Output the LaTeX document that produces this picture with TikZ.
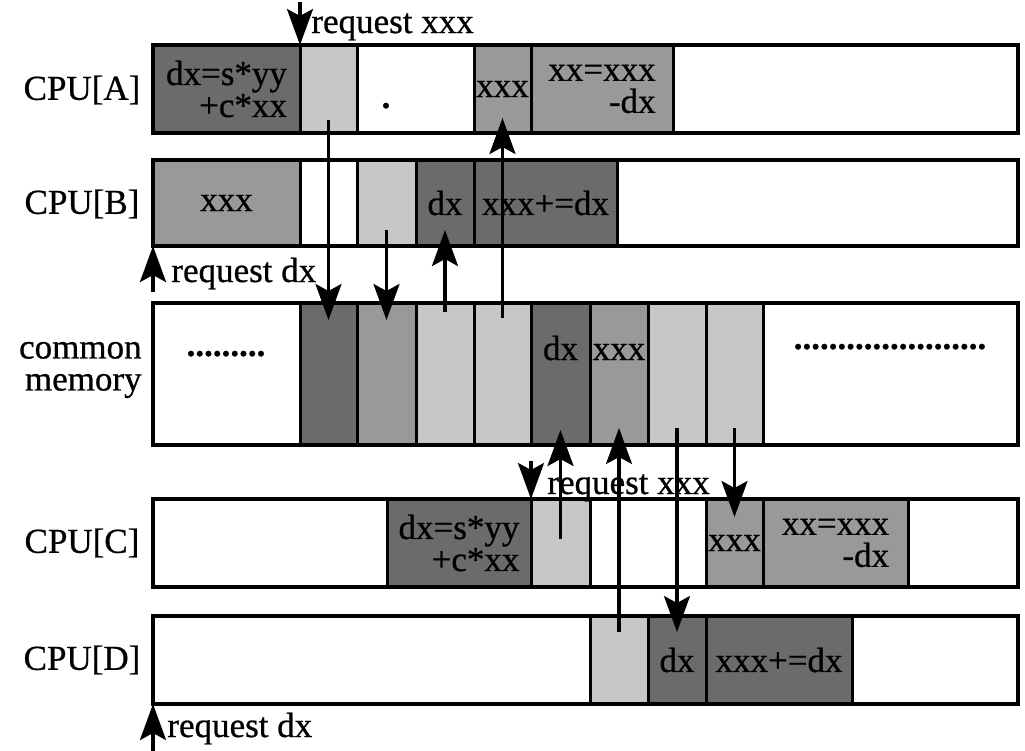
\documentclass[tikz,border=0pt]{standalone}
\usepackage{fontspec}
\setmainfont{Liberation Serif}[FakeBold=0.7]
\usetikzlibrary{arrows.meta}
\newcommand\cel[7]{%
  \node[cellbox,#6,minimum width={(#3-#2)*0.5pt},minimum height={(#5-#4)*0.5pt}] (#1) at ({(#2+#3)/2},{(#4+#5)/2}) {#7};}
\tikzset{
  cellbox/.style={draw,line width=1.5pt,inner sep=0pt,outer sep=0pt,align=right,
    font=\fontsize{17.5}{16}\selectfont},
  wh/.style={fill=white},
  dk/.style={fill=black!58},
  md/.style={fill=black!40},
  lt/.style={fill=black!22},
  frame/.style={draw,line width=2.3pt,fill=none},
  lbl/.style={font=\fontsize{17.5}{16}\selectfont,inner sep=0pt},
  arr/.style={line width=1.6pt,-{Stealth[length=18pt,width=13pt,inset=3.5pt]}},
}
\begin{document}
\begin{tikzpicture}[x=0.5pt,y=-0.5pt]
\useasboundingbox (0,0) rectangle (1025,751);
% CPU[A]
\cel{A1}{153}{300}{45}{133}{dk}{dx=s*yy\\+c*xx}
\cel{A2}{300}{357}{45}{133}{lt}{}
\cel{A3}{357}{474}{45}{133}{wh}{}
\cel{A4}{474}{531}{45}{133}{md}{xxx}
\cel{A5}{531}{673}{45}{133}{md}{xx=xxx\\-dx}
\cel{A6}{673}{1018}{45}{133}{wh}{}
\cel{Aframe}{153}{1018}{45}{133}{frame}{}
\node[lbl,anchor=base] (dotA) at (386,108) {\bfseries .};
% CPU[B]
\cel{B1}{153}{300}{160}{246}{md}{xxx}
\cel{B2}{300}{357}{160}{246}{wh}{}
\cel{B3}{357}{416}{160}{246}{lt}{}
\cel{B4}{416}{474}{160}{246}{dk}{dx}
\cel{B5}{474}{617}{160}{246}{dk}{xxx+=dx}
\cel{B6}{617}{1018}{160}{246}{wh}{}
\cel{Bframe}{153}{1018}{160}{246}{frame}{}
% common memory
\cel{M1}{153}{300}{303}{445}{wh}{}
\cel{M2}{300}{357}{303}{445}{dk}{}
\cel{M3}{357}{416}{303}{445}{md}{}
\cel{M4}{416}{474}{303}{445}{lt}{}
\cel{M5}{474}{531}{303}{445}{lt}{}
\cel{M6}{531}{590}{303}{445}{dk}{}
\cel{M7}{590}{648}{303}{445}{md}{}
\cel{M8}{648}{706}{303}{445}{lt}{}
\cel{M9}{706}{763}{303}{445}{lt}{}
\cel{M10}{763}{1018}{303}{445}{wh}{}
\cel{Mframe}{153}{1018}{303}{445}{frame}{}
\node[lbl,anchor=base] (dotsL) at (226,356) {\bfseries .........};
\node[lbl,anchor=base] (dotsR) at (890,349) {\bfseries ......................};
\node[lbl,anchor=base] (mdx) at (560.5,360) {dx};
\node[lbl,anchor=base] (mxxx) at (619,360) {xxx};
% CPU[C]
\cel{C1}{153}{387}{499}{587}{wh}{}
\cel{C2}{387}{531}{499}{587}{dk}{dx=s*yy\\+c*xx}
\cel{C3}{531}{590}{499}{587}{lt}{}
\cel{C4}{590}{706}{499}{587}{wh}{}
\cel{C5}{706}{763}{499}{587}{md}{xxx}
\cel{C6}{763}{908}{499}{587}{md}{xx=xxx\\-dx}
\cel{C7}{908}{1018}{499}{587}{wh}{}
\cel{Cframe}{153}{1018}{499}{587}{frame}{}
% CPU[D]
\cel{D1}{153}{590}{616}{704}{wh}{}
\cel{D2}{590}{648}{616}{704}{lt}{}
\cel{D3}{648}{706}{616}{704}{dk}{dx}
\cel{D4}{706}{852}{616}{704}{dk}{xxx+=dx}
\cel{D5}{852}{1018}{616}{704}{wh}{}
\cel{Dframe}{153}{1018}{616}{704}{frame}{}
% row labels
\node[lbl] (labA) at (82,90) {CPU[A]};
\node[lbl] (labB) at (82,204) {CPU[B]};
\node[lbl,anchor=east,align=right] (labM) at (142,370) {common\\memory};
\node[lbl] (labC) at (82,543) {CPU[C]};
\node[lbl] (labD) at (82,660) {CPU[D]};
% request arrows
\coordinate (rqA) at (300,2);
\coordinate (rqB) at (153,292);
\coordinate (rqC) at (531,461);
\coordinate (rqD) at (153,751);
\draw[arr] (rqA) -- (A1.north east);
\draw[arr] (rqB) -- (B1.south west);
\draw[arr] (rqC) -- (C2.north east);
\draw[arr] (rqD) -- (D1.south west);
\node[lbl,anchor=base west] (tA) at (311,33) {request xxx};
\node[lbl,anchor=base west] (tB) at (171,282) {request dx};
\node[lbl,anchor=base west] (tC) at (547,494) {request xxx};
\node[lbl,anchor=base west] (tD) at (167,737) {request dx};
% transfers
\draw[arr] ([yshift=6.5pt]A2.south) -- ([yshift=-8.5pt]M2.north);
\draw[arr] ([yshift=8pt]B3.south) -- ([yshift=-8.5pt]M3.north);
\draw[arr] ([yshift=-4.5pt]M4.north) -- ([yshift=8pt]B4.south);
\draw[arr] ([yshift=-7.5pt]M5.north) -- ([yshift=7.5pt]A4.south);
\draw[arr] ([yshift=-20pt]C3.north) -- ([yshift=7.5pt]M6.south);
\draw[arr] ([yshift=-8pt]D2.north) -- ([yshift=8.5pt]M7.south);
\draw[arr] ([yshift=8.5pt]M8.south) -- ([yshift=-8pt]D3.north);
\draw[arr] ([yshift=8.5pt]M9.south) -- ([yshift=-9pt]C5.north);
\end{tikzpicture}
\end{document}
